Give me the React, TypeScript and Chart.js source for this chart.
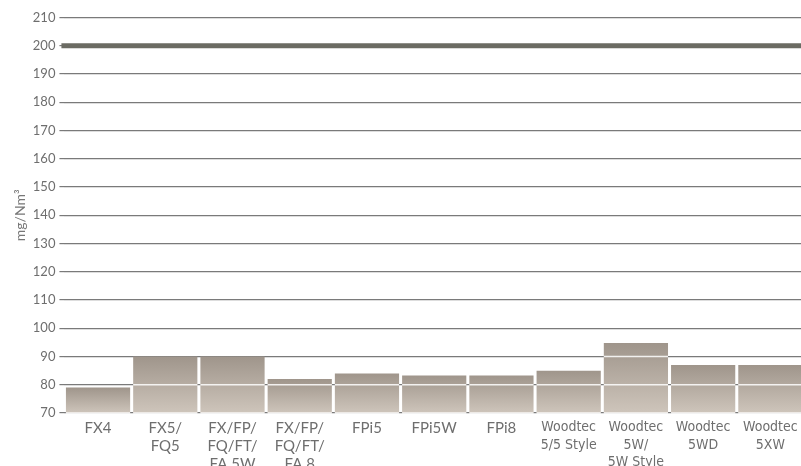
import React, { useEffect, useRef } from "react";
import { Chart, registerables } from "chart.js";

Chart.register(...registerables);

const categories: string[][] = [
  ["FX4"],
  ["FX5/", "FQ5"],
  ["FX/FP/", "FQ/FT/", "FA 5W"],
  ["FX/FP/", "FQ/FT/", "FA 8"],
  ["FPi5"],
  ["FPi5W"],
  ["FPi8"],
  ["Woodtec", "5/5 Style"],
  ["Woodtec", "5W/", "5W Style"],
  ["Woodtec", "5WD"],
  ["Woodtec", "5XW"],
];
const emissions: number[] = [79, 90, 90, 82, 84, 83.3, 83.3, 85, 94.8, 87, 87];
const limitValue = 200;
const yMin = 70;
const yMax = 210;
const yStep = 10;
const yTitle = "mg/Nm³";

const limitPlugin = {
  id: "limitLine",
  beforeDatasetsDraw(chart: any) {
    const { ctx, chartArea, scales } = chart;
    const y = scales.y.getPixelForValue(limitValue);
    ctx.save();
    ctx.strokeStyle = "#6b6b63";
    ctx.lineWidth = 5;
    ctx.beginPath();
    ctx.moveTo(chartArea.left - 3, y);
    ctx.lineTo(chartArea.right, y);
    ctx.stroke();
    ctx.restore();
  },
  afterDatasetsDraw(chart: any) {
    const { ctx, scales } = chart;
    const meta = chart.getDatasetMeta(0);
    const ticks = scales.y.ticks;
    ctx.save();
    ctx.strokeStyle = "rgba(255,255,255,0.85)";
    ctx.lineWidth = 1.5;
    meta.data.forEach((bar: any) => {
      const left = bar.x - bar.width / 2;
      const right = bar.x + bar.width / 2;
      ticks.forEach((t: any) => {
        const y = scales.y.getPixelForValue(t.value);
        if (y > bar.y + 1 && y < bar.base - 2) {
          ctx.beginPath();
          ctx.moveTo(left, y);
          ctx.lineTo(right, y);
          ctx.stroke();
        }
      });
    });
    ctx.restore();
  },
};

export default function App() {
  const ref = useRef<HTMLCanvasElement | null>(null);
  useEffect(() => {
    if (!ref.current) return;
    const chart = new Chart(ref.current, {
      type: "bar",
      data: {
        labels: categories as any,
        datasets: [
          {
            data: emissions,
            backgroundColor: (c: any) => {
              const chart = c.chart;
              const ys = chart.scales?.y;
              if (!ys || c.type !== "data") return "#b3aaa0";
              const top = ys.getPixelForValue(c.parsed.y);
              const bottom = ys.getPixelForValue(yMin);
              if (!isFinite(top) || !isFinite(bottom) || top === bottom) return "#b3aaa0";
              const g = chart.ctx.createLinearGradient(0, top, 0, bottom);
              g.addColorStop(0, "#9f958b");
              g.addColorStop(1, "#cec5bb");
              return g;
            },
            borderWidth: 0,
            categoryPercentage: 0.955,
            barPercentage: 1,
          },
        ],
      },
      options: {
        animation: false,
        responsive: false,
        layout: { padding: { left: 8, right: 0, top: 17.5, bottom: 0 } },
        plugins: {
          legend: { display: false },
          tooltip: { enabled: false },
        },
        scales: {
          x: {
            grid: { display: false, drawTicks: false },
            border: { display: false },
            ticks: {
              color: "#6e6e6e",
              padding: 6,
              maxRotation: 0,
              autoSkip: false,
              font: (c: any) => {
                const lbl = categories[c.index] || [];
                const narrow = lbl[0] === "Woodtec";
                return narrow
                  ? { family: "'Liberation Sans Narrow', 'DejaVu Sans Condensed', sans-serif", size: 14, lineHeight: 1.25 }
                  : { family: "Lato, 'Open Sans', sans-serif", size: 15, lineHeight: 1.2 };
              },
            },
          },
          y: {
            min: yMin,
            max: yMax,
            ticks: {
              stepSize: yStep,
              color: "#6e6e6e",
              padding: 4,
              font: { family: "Lato, 'Open Sans', sans-serif", size: 13 },
            },
            grid: {
              color: "#7a7a7a",
              lineWidth: 1.2,
              tickLength: 5,
              tickColor: "#7a7a7a",
            },
            border: { display: false },
            title: {
              display: true,
              text: yTitle,
              color: "#777",
              font: { family: "Lato, 'Open Sans', sans-serif", size: 14 },
              padding: { top: 4, bottom: 0 },
            },
          },
        },
      },
      plugins: [limitPlugin],
    });
    return () => chart.destroy();
  }, []);
  return (
    <div style={{ position: "fixed", left: 0, top: 0, width: 801, height: 466, overflow: "hidden", background: "#fff" }}>
      <canvas ref={ref} width={804} height={479} />
    </div>
  );
}
